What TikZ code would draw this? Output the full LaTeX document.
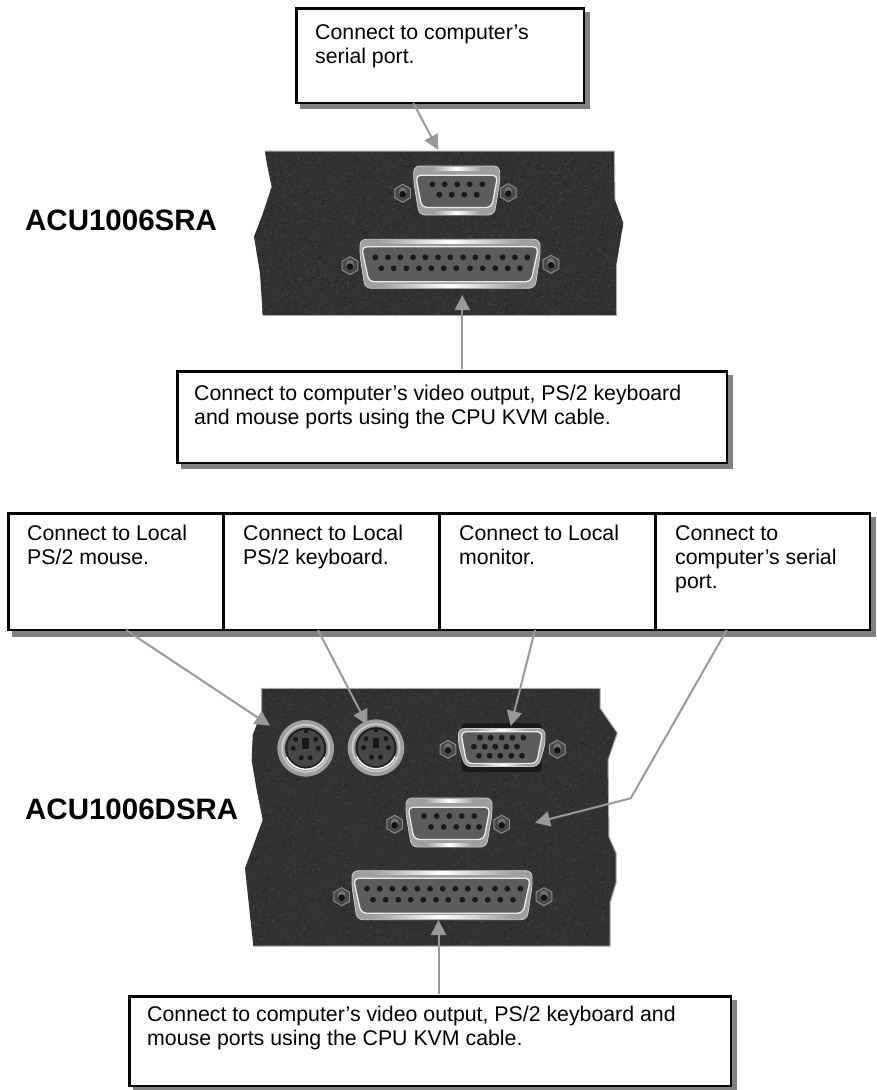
\documentclass[tikz,border=0pt]{standalone}
\usepackage{fontspec}
\setmainfont{Liberation Sans}
\usetikzlibrary{arrows.meta}
\definecolor{arrowgray}{HTML}{999999}
\definecolor{shadowgray}{HTML}{808080}
\definecolor{panelbg}{HTML}{323232}
\definecolor{panelhi}{HTML}{414141}
\definecolor{panello}{HTML}{272727}
\definecolor{panelrim}{HTML}{A8A8A8}
\definecolor{faceg}{HTML}{5C5C5C}
\definecolor{pinc}{HTML}{1A1A1A}
\tikzset{
  boxnode/.style={draw=black,line width=2.4pt,fill=white,inner sep=0pt,anchor=north west},
  shadowfill/.style={fill=shadowgray,draw=none},
  capt/.style={anchor=north west,inner sep=0pt,align=left,font=\fontsize{21.3}{24.3}\selectfont},
  title/.style={anchor=base west,inner sep=0pt,font=\fontsize{29.5}{32}\selectfont\bfseries},
  leader/.style={draw=arrowgray,line width=2pt,-{Triangle[length=15pt,width=15pt,fill=arrowgray]}},
  rim/.style={draw=panelrim,line width=1pt},
}
% hex screw
\newcommand{\hexscrew}[2]{%
  \begin{scope}[shift={(#1,#2)}]
    \filldraw[fill=black!72,draw=white!55!black,line width=1pt] (30:9)--(90:9)--(150:9)--(210:9)--(270:9)--(330:9)--cycle;
    \fill[white!45!black] (0,-0.8) ellipse (4 and 5.4);
    \fill[black!92] (0,1) circle (3.3);
  \end{scope}}
% D-sub shell: cx cy outerTopHW outerBotHW outerHH innerTopHW innerBotHW innerTop innerBot
\newcommand{\dsub}[9]{%
  \begin{scope}[shift={(#1,#2)}]
    \filldraw[rounded corners=6pt,fill=white!62!black,draw=white!80!black,line width=0.8pt]
      (-#3,-#5)--(#3,-#5)--(#3,-#5+16)--(#4,#5)--(-#4,#5)--(-#3,-#5+16)--cycle;
    \path[shade,left color=white!62!black,right color=white!62!black,middle color=white]
      (-#3+18,-#5+1) rectangle (#3-18,-#5+4);
    \path[shade,left color=white!62!black,right color=white!62!black,middle color=white]
      (-#4+14,#5-4) rectangle (#4-14,#5-1);
    \filldraw[rounded corners=5pt,fill=faceg,draw=white!92!black,line width=1.3pt]
      (-#6,-#8)--(#6,-#8)--(#7,#9)--(-#7,#9)--cycle;
  \end{scope}}
\newcommand{\pinrow}[2]{\foreach \px in {#2} \fill[pinc] (\px,#1) circle (2.9);}
% mini-DIN
\newcommand{\minidin}[2]{%
  \begin{scope}[shift={(#1,#2)}]
    \fill[white!62!black] (0,0) circle (28.3);
    \fill[white!78!black] (0,0) circle (24.5);
    \fill[white!60!black] (0,0) circle (22.5);
    \fill[black!88] (0,0) circle (20.6);
    \fill[black!72] (0,0) circle (18.4);
    \draw[white,line width=1.4pt] (25:21) arc (25:155:21);
    \fill[pinc] (-2,-19.5) rectangle (2,-15.5);
    \fill[pinc] (-3.3,-10) rectangle (3.3,0.5);
    \foreach \dx/\dy in {-10/-9,10/-9,-12.5/0,12.5/0,-4.5/9.5,4.5/9.5}
      \fill[pinc] (\dx,\dy) circle (2.5);
  \end{scope}}
\newcommand{\specks}[4]{%
  \fill[panelhi] \foreach \i in {1,...,2200} {({#1+#3*rnd},{#2+#4*rnd}) rectangle ++(1.3,1.3)};
  \fill[panello] \foreach \i in {1,...,2200} {({#1+#3*rnd},{#2+#4*rnd}) rectangle ++(1.3,1.3)};}
\begin{document}
\begin{tikzpicture}[x=1pt,y=-1pt]
\pgfmathsetseed{4711}
\useasboundingbox (0,0) rectangle (876,1090);
\fill[white] (0,0) rectangle (876,1090);

% ---------- upper panel
\begin{scope}
  \clip (265,151)--(266.7,163)--(271.7,186.7)--(261.7,216.7)--(254,236.7)--(260,273)--(262.7,315)--(616.7,315)--(616.7,263)--(623.3,223)--(615,200)--(614.3,151)--cycle;
  \fill[panelbg] (250,150) rectangle (630,316);
  \specks{250}{150}{380}{166}
\end{scope}
\draw[rim] (265,151)--(614.3,151)--(615,200);
\draw[rim] (262.7,315)--(616.7,315)--(616.7,263);
\hexscrew{402.7}{193.3}\hexscrew{508.3}{192.7}
\dsub{456.7}{190.5}{43}{37.5}{24.5}{41}{35}{15.3}{17}
\pinrow{184.3}{432.3,444.7,457.3,469.7,482.3}
\pinrow{194.7}{439.3,451.7,464.3,476.7}
\hexscrew{350}{265.7}\hexscrew{551}{264.3}
\dsub{450}{263.8}{90}{85}{24.5}{88.5}{81}{17}{18}
\pinrow{257.3}{375.3,388,400.3,413,425.3,438,450.3,463,475.3,488,502.7,515,527.3}
\pinrow{268.3}{381.3,393.7,406.3,419,431.3,443.7,456.3,470,482.7,495.3,507.7,520}

% ---------- lower panel
\begin{scope}
  \clip (261.7,688.3)--(261.7,711.7)--(252.7,735)--(251.7,760)--(256.7,790)--(262.7,820)--(245,868.3)--(253.3,946)--(610,946)--(610,903)--(616,883)--(616,853)--(609,837)--(608,760)--(617.3,733)--(600,708)--(600,688.3)--cycle;
  \fill[panelbg] (240,685) rectangle (620,950);
  \specks{240}{685}{380}{265}
\end{scope}
\draw[rim] (261.7,711.7)--(261.7,688.3)--(600,688.3)--(600,708)--(617.3,733)--(608,760)--(609,837)--(616,853)--(616,883)--(610,903)--(610,946)--(253.3,946);
\minidin{305.7}{748.3}\minidin{376}{747.7}
\fill[black!90,rounded corners=4pt] (461.7,723) rectangle (541.7,772);
\hexscrew{448}{749.3}\hexscrew{557.3}{749.3}
\dsub{501.7}{747.5}{43.3}{36.7}{19}{41}{35}{15.7}{16}
\pinrow{737.7}{480,490.7,501.7,512.3,523.3}
\pinrow{746.7}{474,484.7,495.3,506.3,517}
\pinrow{755.7}{479,489.7,500.3,511.3,522}
\hexscrew{394.7}{824.3}\hexscrew{501.7}{824.3}
\dsub{449}{822.5}{43}{37.5}{24.5}{41}{35}{15.3}{17}
\pinrow{816}{424,436.7,449.3,461.7,474.3}
\pinrow{827}{431,443.7,456.3,468.3,479}
\hexscrew{341.7}{896.7}\hexscrew{544}{896.7}
\dsub{442}{895.2}{90}{85}{24.5}{88.5}{81}{17}{18}
\pinrow{888.7}{367,379.7,392.3,404.7,417.3,430,442.7,455.3,467.7,480.3,495,507.3,520.3}
\pinrow{899.7}{373,385.7,398.3,410.7,423.3,436,448.3,462.3,475,487.7,500.3,513}

% ---------- shadows
\fill[shadowfill] (300,12) rectangle (590,109);
\fill[shadowfill] (181,375) rectangle (733,469);
\fill[shadowfill] (12,517) rectangle (876,637);
\fill[shadowfill] (133,1000) rectangle (737,1090);

% ---------- boxes
\node[boxnode,minimum width=287.6pt,minimum height=94.6pt] (serialbox) at (295.2,7.2) {};
\node[boxnode,minimum width=549.6pt,minimum height=91.6pt] (kvmboxa) at (176.2,370.2) {};
\node[boxnode,minimum width=215pt,minimum height=116.6pt] (mousebox) at (7.2,512.2) {};
\node[boxnode,minimum width=216pt,minimum height=116.6pt] (kbdbox) at (222.2,512.2) {};
\node[boxnode,minimum width=216pt,minimum height=116.6pt] (monbox) at (438.2,512.2) {};
\node[boxnode,minimum width=214.6pt,minimum height=116.6pt] (serbox) at (654.2,512.2) {};
\node[boxnode,minimum width=601.6pt,minimum height=89.6pt] (kvmboxb) at (128.2,995.2) {};

% ---------- texts
\node[capt] (t1) at (315,24) {Connect to computer’s\\serial port.};
\node[capt] (t2) at (194,385) {Connect to computer’s video output, PS/2 keyboard\\and mouse ports using the CPU KVM cable.};
\node[capt] (t3) at (27,525) {Connect to Local\\PS/2 mouse.};
\node[capt] (t4) at (243,525) {Connect to Local\\PS/2 keyboard.};
\node[capt] (t5) at (459,525) {Connect to Local\\monitor.};
\node[capt] (t6) at (675,525) {Connect to\\computer’s serial\\port.};
\node[capt] (t7) at (147,1006) {Connect to computer’s video output, PS/2 keyboard and\\mouse ports using the CPU KVM cable.};
\node[title] (l1) at (25,230) {ACU1006SRA};
\node[title] (l2) at (25,819) {ACU1006DSRA};

% ---------- leaders
\coordinate (a1s) at (413.3,103);
\coordinate (a1t) at (438.3,150);
\coordinate (a2s) at (462.3,369);
\coordinate (a2t) at (462.3,295);
\coordinate (a3s) at (126,630);
\coordinate (a3t) at (270,725.7);
\coordinate (a4s) at (318,630);
\coordinate (a4t) at (367.3,725);
\coordinate (a5s) at (535,630);
\coordinate (a5t) at (510.7,726);
\coordinate (a6s) at (726.7,630);
\coordinate (a6m) at (630.7,798.3);
\coordinate (a6t) at (535,822.7);
\coordinate (a7s) at (438.5,994);
\coordinate (a7t) at (438.5,920);
\draw[leader] (a1s)--(a1t);
\draw[leader] (a2s)--(a2t);
\draw[leader] (a3s)--(a3t);
\draw[leader] (a4s)--(a4t);
\draw[leader] (a5s)--(a5t);
\draw[leader] (a6s)--(a6m)--(a6t);
\draw[leader] (a7s)--(a7t);
\end{tikzpicture}
\end{document}
